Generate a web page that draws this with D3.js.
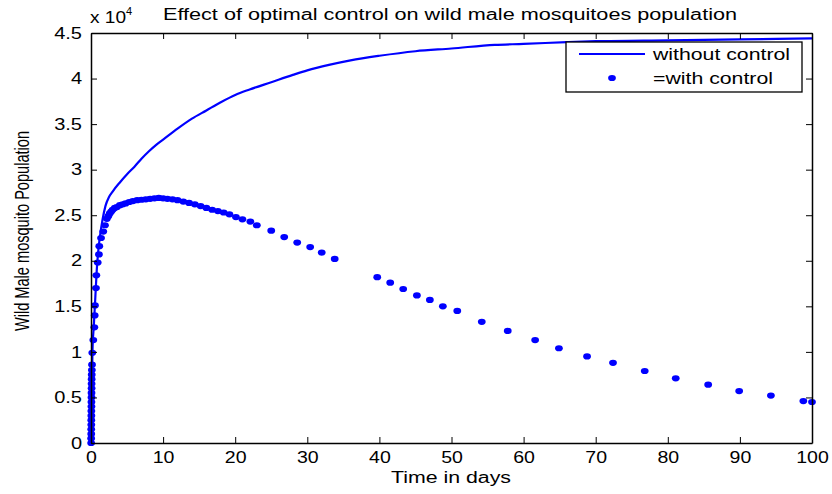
<!DOCTYPE html>
<html><head><meta charset="utf-8">
<script src="https://d3js.org/d3.v7.min.js"></script>
<style>
html,body{margin:0;padding:0;background:#fff;}
svg{display:block;font-family:"Liberation Sans",Arial,sans-serif;}
</style></head>
<body><svg id="chart" width="832" height="494"></svg>
<script>
const titleText = "Effect of optimal control on wild male mosquitoes population";
const xLabel = "Time in days";
const yLabel = "Wild Male mosquito Population";
const xTicks = [0,10,20,30,40,50,60,70,80,90,100];
const yTicks = [0,0.5,1,1.5,2,2.5,3,3.5,4,4.5];
const legendLabels = ["without control","=with control"];

// without control (x 10^4)
const lineT = [0,0.1,0.2,0.4,0.6,0.8,1.0,1.3,1.6,2.0,2.5,3,4,5,6,7,8,9,10,12,14,16,18,20,22,25,28,30,33,36,40,45,50,56,60,66,70,80,90,100];
const lineV = [0,0.5,1.0,1.3,1.6,1.9,2.1,2.3,2.45,2.6,2.7,2.76,2.86,2.95,3.03,3.12,3.2,3.27,3.33,3.45,3.56,3.65,3.74,3.82,3.88,3.96,4.04,4.09,4.15,4.20,4.25,4.30,4.33,4.37,4.38,4.40,4.41,4.42,4.43,4.44];

// with control (x 10^4)
const dotT = [0.02,0.02,0.03,0.03,0.04,0.04,0.05,0.05,0.06,0.06,0.07,0.07,0.08,0.08,0.09,0.10,0.12,0.14,0.18,0.32,0.46,0.51,0.55,0.69,0.74,0.93,1.1,1.15,1.39,1.7,1.94,2.2,2.4,2.6,2.8,3.0,3.3,3.6,4.0,4.4,4.8,5.3,5.8,6.4,7.0,7.6,8.2,8.8,9.4,10.0,10.6,11.3,12.0,12.8,13.6,14.4,15.2,16.0,16.8,17.6,18.4,19.2,20.1,21.0,22.1,23.0,25.0,26.8,28.6,30.4,32.0,33.8,39.7,41.5,43.3,45.2,47.0,48.8,50.8,54.2,57.8,61.6,64.9,68.8,72.4,76.8,81.1,85.6,89.9,94.3,98.8,100];
const dotV = [0.0,0.05,0.1,0.15,0.2,0.25,0.3,0.35,0.4,0.45,0.5,0.55,0.6,0.65,0.7,0.75,0.8,0.86,0.99,1.13,1.27,1.40,1.51,1.70,1.84,1.98,2.07,2.16,2.25,2.32,2.39,2.46,2.49,2.52,2.54,2.56,2.58,2.59,2.61,2.62,2.63,2.645,2.655,2.665,2.67,2.675,2.68,2.685,2.69,2.685,2.68,2.675,2.665,2.65,2.635,2.62,2.60,2.58,2.56,2.545,2.53,2.51,2.48,2.455,2.43,2.39,2.33,2.26,2.20,2.15,2.09,2.02,1.82,1.76,1.69,1.62,1.57,1.50,1.45,1.33,1.23,1.13,1.04,0.95,0.88,0.79,0.71,0.64,0.57,0.52,0.46,0.45];

const svg = d3.select("#chart");
const L=91, R=812, T=33, B=443;
const x = d3.scaleLinear().domain([0,100]).range([L,R]);
const y = d3.scaleLinear().domain([0,4.5]).range([B,T]);
const blue = "#0000ff";

function stretch(sel, f){
  sel.each(function(){
    const w = this.getComputedTextLength();
    d3.select(this).attr("textLength", w*f).attr("lengthAdjust","spacingAndGlyphs");
  });
}
function fitTo(sel, w){
  sel.attr("textLength", w).attr("lengthAdjust","spacingAndGlyphs");
}

// data line
const lineData = lineT.map((t,i)=>[t,lineV[i]]);
svg.append("path").datum(lineData)
  .attr("fill","none").attr("stroke",blue).attr("stroke-width",2.2)
  .attr("d", d3.line().x(d=>x(d[0])).y(d=>y(d[1])).curve(d3.curveMonotoneX));

const dotData = dotT.map((t,i)=>[t,dotV[i]]);
svg.append("g").selectAll("ellipse").data(dotData).join("ellipse")
  .attr("cx",d=>x(d[0])).attr("cy",d=>y(d[1])).attr("rx",3.9).attr("ry",3.1).attr("fill",blue);

// axes
const tickLen = 6;
const xb = d3.axisBottom(x).tickValues(xTicks).tickSizeInner(-tickLen).tickSizeOuter(0).tickPadding(9).tickFormat(d3.format("d"));
const gx = svg.append("g").attr("transform",`translate(0,${B})`).call(xb);
const xt = d3.axisTop(x).tickValues(xTicks).tickSizeInner(-tickLen).tickSizeOuter(0).tickFormat("");
const gxt = svg.append("g").attr("transform",`translate(0,${T})`).call(xt);
const yl = d3.axisLeft(y).tickValues(yTicks).tickSizeInner(-tickLen).tickSizeOuter(0).tickPadding(9).tickFormat(d=>d===0?"0":d3.format(".1f")(d).replace(/\.0$/,""));
const gy = svg.append("g").attr("transform",`translate(${L},0)`).call(yl);
const yr = d3.axisRight(y).tickValues(yTicks).tickSizeInner(-tickLen).tickSizeOuter(0).tickFormat("");
const gyr = svg.append("g").attr("transform",`translate(${R},0)`).call(yr);
[gx,gxt,gy,gyr].forEach(g=>{
  g.select(".domain").attr("stroke","#000").attr("stroke-width",1.5);
  g.selectAll(".tick line").attr("stroke","#000").attr("stroke-width",1);
  g.selectAll(".tick text").attr("fill","#000").style("font-size","16px").style("font-family","'Liberation Sans',Arial,sans-serif");
});
stretch(gx.selectAll(".tick text"), 1.22);
stretch(gy.selectAll(".tick text"), 1.25);

// title and labels
fitTo(svg.append("text").attr("x",450).attr("y",20).attr("text-anchor","middle")
  .style("font-size","16px").attr("fill","#000").text(titleText), 574);
const ex = svg.append("text").attr("x",90).attr("y",23).style("font-size","16px").attr("fill","#000");
fitTo(ex.append("tspan").text("x 10"), 36);
ex.append("tspan").attr("dy",-8).style("font-size","11px").text("4");
fitTo(svg.append("text").attr("x",451).attr("y",483).attr("text-anchor","middle")
  .style("font-size","16px").attr("fill","#000").text(xLabel), 120);
fitTo(svg.append("text").attr("transform","translate(29,231) rotate(-90)").attr("text-anchor","middle")
  .style("font-size","20px").attr("fill","#000").text(yLabel), 200);

// legend
const lg = svg.append("g");
lg.append("rect").attr("x",566).attr("y",42).attr("width",236).attr("height",50)
  .attr("fill","#fff").attr("stroke","#000").attr("stroke-width",1.3);
lg.append("line").attr("x1",579).attr("x2",645).attr("y1",54).attr("y2",54).attr("stroke",blue).attr("stroke-width",2.2);
lg.append("ellipse").attr("cx",612).attr("cy",78).attr("rx",3.9).attr("ry",3.1).attr("fill",blue);
fitTo(lg.append("text").attr("x",653).attr("y",60).style("font-size","16px").attr("fill","#000").text(legendLabels[0]), 137);
fitTo(lg.append("text").attr("x",653).attr("y",84).style("font-size","16px").attr("fill","#000").text(legendLabels[1]), 120);
</script></body></html>
